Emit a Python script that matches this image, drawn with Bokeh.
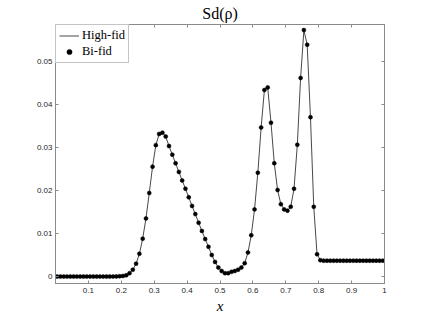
import numpy as np
from bokeh.plotting import figure
from bokeh.models import LinearAxis, FixedTicker, Range1d, Legend, LegendItem
from bokeh.embed import file_html
from bokeh.resources import INLINE

# ---------------- data ----------------
x_vals = np.round(np.arange(100) * 0.01 + 0.005, 3)

high_fid = [
    0.0, 0.0, 0.0, 0.0, 0.0, 0.0, 0.0, 0.0, 0.0, 0.0,
    0.0, 0.0, 0.0, 0.0, 0.0, 0.0, 0.0, 0.00002, 0.00004, 0.00008,
    0.00015, 0.0003, 0.0008, 0.0016, 0.0030, 0.0053, 0.0088, 0.0135, 0.0194, 0.0255,
    0.0305, 0.0331, 0.0334, 0.0325, 0.0303, 0.0283, 0.0263, 0.0243, 0.0223, 0.0204,
    0.0184, 0.0164, 0.0145, 0.0125, 0.0106, 0.0087, 0.0069, 0.0050, 0.0034, 0.0021,
    0.0013, 0.0008, 0.0008, 0.0011, 0.0013, 0.0016, 0.0021, 0.0031, 0.0056, 0.0096,
    0.0156, 0.0241, 0.0346, 0.0433, 0.0439, 0.0357, 0.0263, 0.0201, 0.0168, 0.0156,
    0.0153, 0.0162, 0.0204, 0.0306, 0.0461, 0.0572, 0.0538, 0.0370, 0.0162, 0.0052,
    0.0038, 0.0037, 0.0037, 0.0037, 0.0037, 0.0037, 0.0037, 0.0037, 0.0037, 0.0037,
    0.0037, 0.0037, 0.0037, 0.0037, 0.0037, 0.0037, 0.0037, 0.0037, 0.0037, 0.0037,
]
bi_fid = list(high_fid)

x_ticks = [0.1, 0.2, 0.3, 0.4, 0.5, 0.6, 0.7, 0.8, 0.9, 1.0]
x_tick_labels = ["0.1", "0.2", "0.3", "0.4", "0.5", "0.6", "0.7", "0.8", "0.9", "1"]
y_ticks = [0.0, 0.01, 0.02, 0.03, 0.04, 0.05]
y_tick_labels = ["0", "0.01", "0.02", "0.03", "0.04", "0.05"]

title_text = "Sd(ρ)"
x_label = "x"
series_names = ["High-fid", "Bi-fid"]

# ---------------- figure ----------------
frame_col = "#8a8a8a"
tick_col = "#262626"

p = figure(width=424, height=318, output_backend="svg", toolbar_location=None,
           x_range=Range1d(0.0, 1.0), y_range=Range1d(-0.0016, 0.0585),
           min_border_left=55, min_border_right=40, min_border_top=24,
           min_border_bottom=35, title=title_text)
p.background_fill_color = "white"
p.border_fill_color = "white"
p.outline_line_color = frame_col
p.grid.visible = False

p.title.align = "center"
p.title.text_font = "Liberation Serif"
p.title.text_font_size = "16px"
p.title.text_font_style = "normal"
p.title.text_color = "#000000"
p.title.standoff = 5
p.title.offset = 0


def style_axis(ax, ticks, labels):
    ax.ticker = FixedTicker(ticks=ticks)
    ax.major_label_overrides = {t: l for t, l in zip(ticks, labels)}
    ax.major_tick_in = 3
    ax.major_tick_out = 0
    ax.minor_tick_line_color = None
    ax.major_tick_line_color = frame_col
    ax.axis_line_color = frame_col
    ax.major_label_text_font = "Liberation Sans"
    ax.major_label_text_font_size = "8px"
    ax.major_label_text_color = tick_col
    ax.major_label_standoff = 4


def style_mirror_axis(ax, ticks):
    # ticks only (drawn as minor ticks, so no labels are produced)
    ax.ticker = FixedTicker(ticks=[], minor_ticks=ticks)
    ax.major_tick_line_color = None
    ax.minor_tick_in = 3
    ax.minor_tick_out = 0
    ax.minor_tick_line_color = frame_col
    ax.axis_line_color = frame_col
    ax.major_label_standoff = 0


style_axis(p.xaxis[0], x_ticks, x_tick_labels)
style_axis(p.yaxis[0], y_ticks, y_tick_labels)
p.yaxis[0].major_label_standoff = 3
p.xaxis[0].axis_label = x_label
p.xaxis[0].axis_label_text_font = "Liberation Serif"
p.xaxis[0].axis_label_text_font_style = "italic"
p.xaxis[0].axis_label_text_font_size = "15px"
p.xaxis[0].axis_label_text_color = "#000000"
p.xaxis[0].axis_label_standoff = 2

top_axis = LinearAxis()
style_mirror_axis(top_axis, x_ticks)
p.add_layout(top_axis, "above")
right_axis = LinearAxis()
style_mirror_axis(right_axis, y_ticks)
p.add_layout(right_axis, "right")

# ---------------- glyphs ----------------
line_r = p.line(x_vals, high_fid, line_color="#333333", line_width=0.9)
dot_r = p.scatter(x_vals, bi_fid, marker="circle", size=4,
                  fill_color="black", line_color="black", line_width=0.5)

legend = Legend(items=[LegendItem(label=series_names[0], renderers=[line_r]),
                       LegendItem(label=series_names[1], renderers=[dot_r])],
                location="top_left")
legend.margin = 0
legend.padding = 3
legend.spacing = 1
legend.glyph_width = 20
legend.glyph_height = 13
legend.label_height = 13
legend.label_standoff = 3
legend.label_text_font = "Liberation Serif"
legend.label_text_font_size = "12.5px"
legend.label_text_color = "#000000"
legend.border_line_color = frame_col
legend.border_line_width = 1
legend.background_fill_color = "white"
legend.background_fill_alpha = 1.0
p.add_layout(legend)

open("out.html", "w").write(file_html(p, INLINE))
